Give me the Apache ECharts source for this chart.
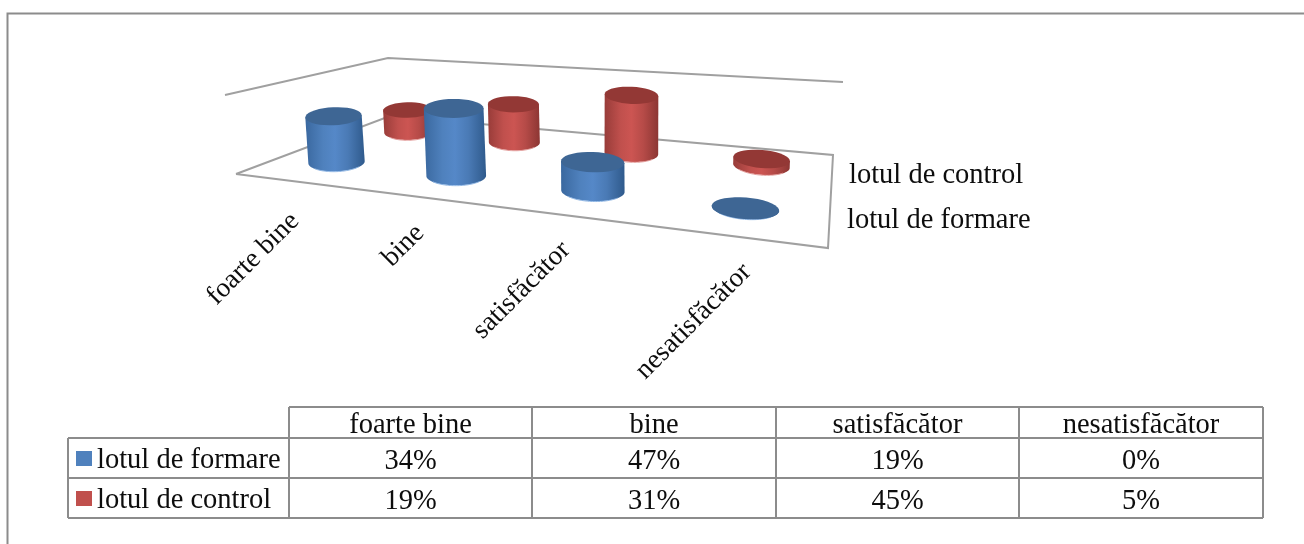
<!DOCTYPE html>
<html>
<head>
<meta charset="utf-8">
<style>html,body{margin:0;padding:0;background:#fff}#chart{width:1304px;height:544px}</style>
<script src="https://cdn.jsdelivr.net/npm/echarts@6/dist/echarts.min.js"></script>
</head>
<body>
<div id="chart"></div>
<script>
const categories = ['foarte bine', 'bine', 'satisfăcător', 'nesatisfăcător'];
const seriesFormare = [34, 47, 19, 0];
const seriesControl = [19, 31, 45, 5];
const nameFormare = 'lotul de formare';
const nameControl = 'lotul de control';

const FONT = '"Liberation Serif"';
const TEXT = '#0d0d0d';
const LINE = '#a0a0a0';
const TABLE_LINE = '#8c8c8c';

// Hidden plot area: one band per category, 2px per percentage point.
const plot = { left: 236, top: 300, width: 592, height: 100 };

// Corners of the chart floor on screen (front-left, front-right, back-right, back-left).
const floor = [[236, 174], [828, 248], [833, 155], [390, 116]];
// Homography from the unit floor square to the screen.
const proj = (function () {
  const [[x0, y0], [x1, y1], [x2, y2], [x3, y3]] = floor;
  const dx1 = x1 - x2, dx2 = x3 - x2, sx = x0 - x1 + x2 - x3;
  const dy1 = y1 - y2, dy2 = y3 - y2, sy = y0 - y1 + y2 - y3;
  const den = dx1 * dy2 - dx2 * dy1;
  const g = (sx * dy2 - dx2 * sy) / den, h = (dx1 * sy - sx * dy1) / den;
  const a = x1 - x0 + g * x1, b = x3 - x0 + h * x3, d = y1 - y0 + g * y1, e = y3 - y0 + h * y3;
  return function (u, v) {
    const w = g * u + h * v + 1;
    return { x: (a * u + b * v + x0) / w, y: (d * u + e * v + y0) / w, w: w };
  };
})();

const palette = {
  formare: { top: '#3e6694', rim: '#8fb6e4', stops: ['#3a689f', '#4f81bd', '#5588c8', '#4a7ab5', '#2f5a8c'] },
  control: { top: '#933835', rim: '#e39c9a', stops: ['#983c39', '#c0504d', '#cc5552', '#b64b48', '#8c3633'] }
};

function ellipsePoint(c, rx, ry, t, tilt) {
  const ct = Math.cos(t) * rx, st = Math.sin(t) * ry;
  return [c.x + ct * Math.cos(tilt) - st * Math.sin(tilt), c.y + ct * Math.sin(tilt) + st * Math.cos(tilt)];
}
function arc(c, rx, ry, from, to, tilt) {
  const pts = [], n = 36;
  for (let k = 0; k <= n; k++) pts.push(ellipsePoint(c, rx, ry, from + (to - from) * k / n, tilt));
  return pts;
}

// Draws one cylinder from a [category, value] item, standing on its row of the floor.
function cylinder(depth, colors) {
  return function (params, api) {
    const i = api.value(0), value = api.value(1);
    const low = api.coord([i, 0]), high = api.coord([i, value]);
    const u = (low[0] - plot.left) / plot.width;
    const base = proj(u, depth);
    const rx = 29.75 / base.w, ry = 9.5 / base.w;
    const h = (low[1] - high[1]) * 0.715 / base.w;
    const cx = base.x - (depth < 0.5 && base.x < 480 ? 2 : 0);
    const c0 = { x: cx, y: base.y };
    const top = { x: cx + (cx - 620) * h * 0.000233, y: base.y - h };
    const tilt = (cx - 480) * 0.0003;
    const body = [].concat(arc(top, rx, 0.01, Math.PI, Math.PI, tilt), arc(c0, rx, ry, Math.PI, 0, tilt), arc(top, rx, 0.01, 0, 0, tilt));
    const stops = colors.stops.map((color, k) => ({ offset: [0, 0.3, 0.5, 0.72, 1][k], color }));
    return {
      type: 'group',
      children: [
        { type: 'polygon', shape: { points: body }, style: { fill: new echarts.graphic.LinearGradient(0, 0, 1, 0, stops) } },
        { type: 'polyline', shape: { points: arc(c0, rx - 1, ry + 0.3, Math.PI * 0.8, Math.PI * 0.2, tilt) }, style: { fill: 'none', stroke: colors.rim, lineWidth: 1 } },
        { type: 'polygon', shape: { points: arc(top, rx, ry, 0, Math.PI * 2, tilt) }, style: { fill: colors.top } }
      ]
    };
  };
}

function line(points, color, width) {
  return { type: 'polyline', z: 1, silent: true, shape: { points }, style: { fill: 'none', stroke: color, lineWidth: width } };
}
function label(text, x, y, opts) {
  return {
    type: 'text', z: 5, silent: true, x, y,
    rotation: (opts && opts.rotation) || 0,
    style: { text, fill: TEXT, font: ((opts && opts.size) || 28.5) + 'px ' + FONT, align: (opts && opts.align) || 'center', verticalAlign: 'middle' }
  };
}

const elements = [];
// Outer frame
elements.push(line([[7.5, 544], [7.5, 13.5], [1304, 13.5]], '#8c8c8c', 2));
// Floor and walls
elements.push(line(floor.concat([floor[0]]), LINE, 2));
elements.push(line([[225, 95], [388, 58], [843, 82]], LINE, 1.8));

// Category labels, slanted below the front edge of the floor
const labelEnds = [[295, 217], [420, 229], [566, 246], [747, 268]];
categories.forEach((c, i) => {
  elements.push(label(c, labelEnds[i][0], labelEnds[i][1], { align: 'right', rotation: Math.PI / 4, size: 27.5 }));
});
// Series names at the right of the floor
elements.push(label(nameControl, 849, 176, { align: 'left' }));
elements.push(label(nameFormare, 847, 221, { align: 'left' }));

// Data table underneath
const colX = [289, 532, 776, 1019, 1263];
const rowY = [407, 438, 478, 518];
const tableLeft = 68;
[0, 1, 2, 3].forEach(r => elements.push(line([[r === 0 ? colX[0] : tableLeft, rowY[r]], [colX[4], rowY[r]]], TABLE_LINE, 2)));
elements.push(line([[tableLeft, rowY[1]], [tableLeft, rowY[3]]], TABLE_LINE, 2));
colX.forEach(x => elements.push(line([[x, rowY[0]], [x, rowY[3]]], TABLE_LINE, 2)));
categories.forEach((c, i) => {
  const cx = (colX[i] + colX[i + 1]) / 2;
  elements.push(label(c, cx, (rowY[0] + rowY[1]) / 2 + 3));
  elements.push(label(seriesFormare[i] + '%', cx, (rowY[1] + rowY[2]) / 2 + 4));
  elements.push(label(seriesControl[i] + '%', cx, (rowY[2] + rowY[3]) / 2 + 4));
});
elements.push({ type: 'rect', z: 5, shape: { x: 76, y: 451, width: 16, height: 15 }, style: { fill: '#4f81bd' } });
elements.push({ type: 'rect', z: 5, shape: { x: 76, y: 491, width: 16, height: 15 }, style: { fill: '#c0504d' } });
elements.push(label(nameFormare, 97, 461, { align: 'left' }));
elements.push(label(nameControl, 97, 501, { align: 'left' }));

const chart = echarts.init(document.getElementById('chart'), null, { renderer: 'canvas' });
chart.setOption({
  animation: false,
  backgroundColor: '#fff',
  grid: { left: plot.left, top: plot.top, width: plot.width, height: plot.height, show: false },
  xAxis: { type: 'category', data: categories, show: false },
  yAxis: { type: 'value', min: 0, max: 50, show: false },
  graphic: { elements },
  series: [
    { type: 'custom', name: nameControl, z: 3, renderItem: cylinder(0.75, palette.control), encode: { x: 0, y: 1 },
      data: seriesControl.map((v, i) => [i, v]) },
    { type: 'custom', name: nameFormare, z: 4, renderItem: cylinder(0.25, palette.formare), encode: { x: 0, y: 1 },
      data: seriesFormare.map((v, i) => [i, v]) }
  ]
});
</script>
</body>
</html>
